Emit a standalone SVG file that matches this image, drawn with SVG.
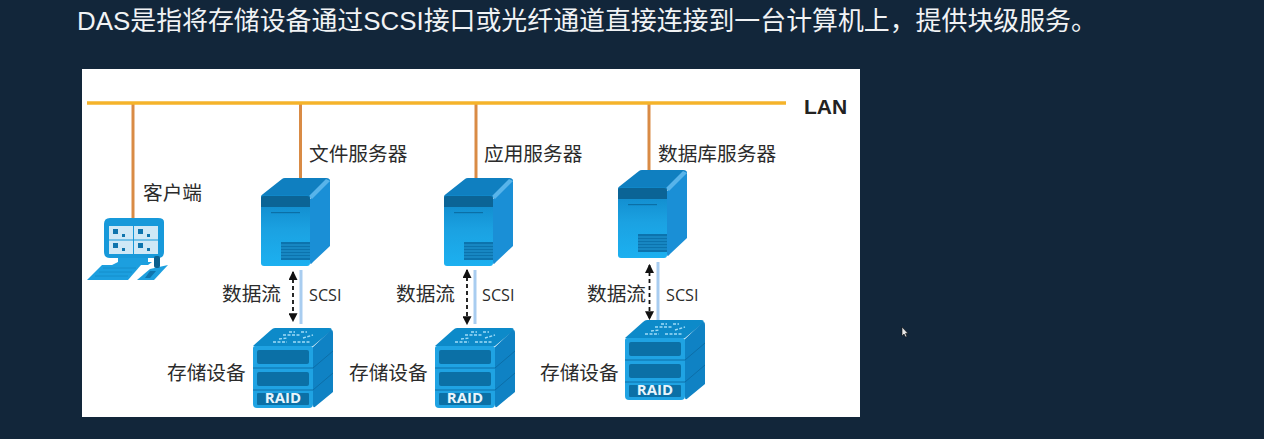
<svg xmlns="http://www.w3.org/2000/svg" width="1264" height="439" viewBox="0 0 1264 439">
<style>
.t{font-family:"Noto Sans CJK SC","Liberation Sans",sans-serif;fill:#2b2b2b;font-size:19.7px}
.s{font-family:"Open Sans","Liberation Sans",sans-serif;fill:#2b2b2b;font-size:16.2px}
.r{font-family:"Open Sans","Liberation Sans",sans-serif;fill:#e8f5fc;font-size:15px;font-weight:700;text-anchor:middle}
.drop{stroke:#d98b45;stroke-width:3;fill:none}
.scsi{stroke:#a9cdf0;stroke-width:3;fill:none}
.flow{stroke:#111;stroke-width:1.8;stroke-dasharray:4 3;fill:none;marker-start:url(#ah);marker-end:url(#ah)}
</style>
<defs>
<marker id="ah" viewBox="0 0 8 8" refX="7" refY="4" markerWidth="5" markerHeight="5" markerUnits="strokeWidth" orient="auto-start-reverse"><path d="M0 0L8 4L0 8z" fill="#111"/></marker>
<linearGradient id="front" x1="0" y1="0" x2="0" y2="1"><stop offset="0" stop-color="#0f86c8"/><stop offset=".5" stop-color="#1ba2e2"/><stop offset="1" stop-color="#1cb0f0"/></linearGradient>
<g id="server">
<path d="M0 19Q0 17 2 16L21 1Q22 0 24 0L65 0Q69 0 69 3L49 20Z" fill="#0f7fc0"/>
<path d="M49 21L66 2Q69 0 69 4L69 68L52 84Q49 88 49 84Z" fill="#1a8fd6"/>
<path d="M48 18L65 1L69 3L51 21Z" fill="#58b4ea"/>
<rect x="0" y="17" width="49" height="71" rx="3" fill="url(#front)"/>
<path d="M0 20Q0 18 3 18L46 18Q49 18 49 21L49 29L0 29Z" fill="#0b6496"/>
<rect x="10" y="34" width="29" height="1.2" fill="#0b6fa6"/>
<g fill="#0c73ad"><rect x="20" y="64" width="29" height="18"/></g>
<g stroke="#2aa5e2" stroke-width=".8"><path d="M20 67H49M20 70H49M20 73H49M20 76H49M20 79H49"/></g>
</g>
<g id="raid">
<path d="M0 18L18 2Q20 0 22 0L76 0Q80 0 78 3L60 18Z" fill="#0d8ac9"/>
<path d="M60 19L77 3Q80 0 80 5L80 64L63 78Q60 81 60 77Z" fill="#0f82c4"/>
<path d="M0 20Q0 18 2 18L58 18Q60 18 60 20L60 76Q60 80 56 80L4 80Q0 80 0 76Z" fill="#1fa3e3"/>
<path d="M0 40H60L80 23M0 62H60L80 45" stroke="#0c6ea8" stroke-width="1" fill="none"/>
<rect x="4" y="22" width="52" height="14" rx="2" fill="#0b70a6"/>
<rect x="4" y="44" width="52" height="14" rx="2" fill="#0b70a6"/>
<rect x="4" y="65" width="52" height="12" rx="1" fill="#0b70a6"/>
<path d="M20 14H34M40 14H58M30 7H48M26 11L34 10M50 10L60 7M36 4H42M48 4H54" stroke="#9fdcf7" stroke-width="1.4" stroke-dasharray="3 1.5" fill="none"/>
</g>
</defs>

<rect id="background" width="1264" height="439" fill="#12263a"/>
<text id="title" x="77" y="30" style="font-family:'Liberation Sans','Noto Sans CJK SC',sans-serif;font-size:25.9px;fill:#f1f3f5">DAS是指将存储设备通过SCSI接口或光纤通道直接连接到一台计算机上，提供块级服务。</text>
<rect id="panel" x="82" y="69" width="778" height="348" fill="#fff"/>

<g id="connectors">
<path class="drop" d="M133 103V218"/>
<path class="drop" d="M300.500 103V178"/>
<path class="drop" d="M476 103V178"/>
<path class="drop" d="M649 103V170"/>
<path d="M87 103H786" stroke="#f5b32a" stroke-width="3.500" fill="none"/>
<path class="scsi" d="M301 270V324"/>
<path class="scsi" d="M475 270V324"/>
<path class="scsi" d="M658 262V320"/>
<path class="flow" d="M293 272V321"/>
<path class="flow" d="M467 270V324"/>
<path class="flow" d="M649.500 265V319"/>
</g>

<g id="lan"><text x="804" y="114" style="font-family:'Liberation Sans',sans-serif;font-size:21px;font-weight:700;fill:#222">LAN</text></g>

<g id="client">
<path d="M104 224Q104 218 110 218L158 218Q164 218 164 222L164 252Q164 258 158 258L110 258Q104 258 104 252Z" fill="#1799da"/>
<rect x="109" y="226" width="49" height="28" fill="#cfe8f6"/>
<path d="M133.500 226V254M109 240H158" stroke="#1799da" stroke-width="1"/>
<g fill="#0e74ad"><rect x="113" y="229" width="5" height="5"/><rect x="122" y="234" width="3" height="3"/><rect x="138" y="229" width="5" height="5"/><rect x="147" y="234" width="3" height="3"/><rect x="113" y="243" width="5" height="5"/><rect x="122" y="248" width="3" height="3"/><rect x="138" y="243" width="5" height="5"/><rect x="147" y="248" width="3" height="3"/></g>
<path d="M118 258H148V262H152L148 265H112L118 262Z" fill="#1c9fdf"/>
<path d="M102 265H141L128 280H87Z" fill="#1c9fdf"/>
<path d="M103 268H136M99 272H132M95 276H128" stroke="#148ecb" stroke-width="1"/>
<path d="M150 269L168 265L154 280H137Z" fill="#1c9fdf"/>
<path d="M150 271H156L150 278H145Z" fill="#0e74ad"/>
<rect x="154" y="256" width="6" height="12" rx="2" fill="#0b5f8e"/>
<text class="t" x="143" y="200">客户端</text>
</g>

<g id="file-server"><use href="#server" x="261" y="178"/><text class="t" x="309" y="161">文件服务器</text></g>
<g id="app-server"><use href="#server" x="444" y="178"/><text class="t" x="484" y="161">应用服务器</text></g>
<g id="db-server"><use href="#server" x="618" y="170"/><text class="t" x="658" y="161">数据库服务器</text></g>

<g id="raid-1"><use href="#raid" x="253" y="328"/><text class="r" x="283" y="403">RAID</text><text class="t" x="167" y="380">存储设备</text></g>
<g id="raid-2"><use href="#raid" x="435" y="328"/><text class="r" x="465" y="403">RAID</text><text class="t" x="349" y="380">存储设备</text></g>
<g id="raid-3"><use href="#raid" x="625" y="320"/><text class="r" x="655" y="395">RAID</text><text class="t" x="540" y="380">存储设备</text></g>

<g id="labels">
<text class="t" x="222" y="301">数据流</text><text class="s" x="309" y="301">SCSI</text>
<text class="t" x="396" y="301">数据流</text><text class="s" x="482" y="301">SCSI</text>
<text class="t" x="587" y="301">数据流</text><text class="s" x="666" y="301">SCSI</text>
</g>

<path id="cursor" d="M902 327V336L904 334L905.500 337L907 336.500L905.500 333.500L908 333.500Z" fill="#e8e8e8" stroke="#111" stroke-width=".6"/>
</svg>
